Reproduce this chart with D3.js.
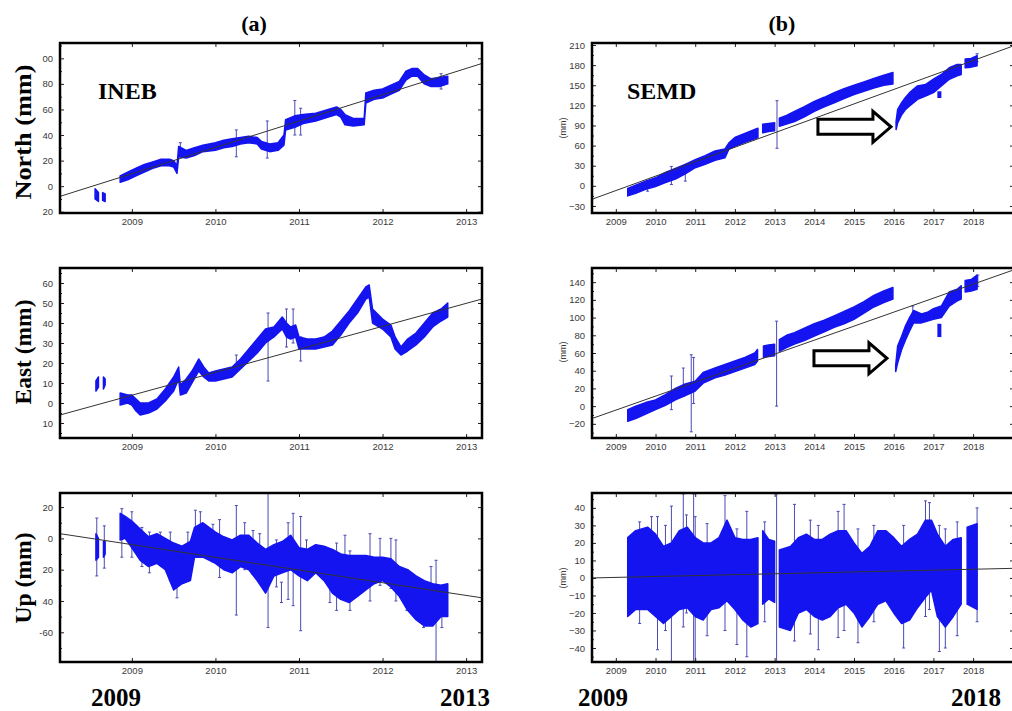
<!DOCTYPE html>
<html>
<head>
<meta charset="utf-8">
<script src="https://cdn.jsdelivr.net/npm/d3@7"></script>
<style>
    body { margin: 0; background: #fff; }
    svg { display: block; }
    .tick text { font-family: "Liberation Sans", Arial, sans-serif; font-size: 9.5px; fill: #3a3a3a; }
    .tick line { stroke: #222; stroke-width: 1; }
    .serif { font-family: "Liberation Serif", "Times New Roman", serif; font-weight: bold; fill: #000; }
</style>
</head>
<body>
<svg id="chart"></svg>
<script>
"use strict";

const width = 1012;
const height = 711;

// ---- data: [year, low, high] envelopes of the daily positions (mm), null = gap
const northA = [
    [2008.56, -10, -2], [2008.60, -12, -5], [2008.61, null, null], [2008.65, -11, -5], [2008.68, -12, -6], [2008.70, null, null],
    [2008.86, 3, 8], [2008.95, 5, 11], [2009.05, 8, 14], [2009.15, 11, 17], [2009.25, 14, 19], [2009.35, 16, 21],
    [2009.45, 16, 21], [2009.50, 15, 20], [2009.54, 10, 16], [2009.56, 23, 31], [2009.65, 22, 28], [2009.75, 24, 30],
    [2009.85, 27, 32], [2010.0, 28, 34], [2010.1, 30, 36], [2010.2, 31, 37], [2010.3, 33, 38], [2010.4, 34, 39],
    [2010.5, 33, 38], [2010.55, 29, 35], [2010.65, 27, 33], [2010.75, 28, 34], [2010.82, 32, 40], [2010.84, 44, 52],
    [2010.95, 46, 55], [2011.05, 49, 56], [2011.2, 51, 57], [2011.35, 54, 60], [2011.45, 56, 62], [2011.5, 54, 60],
    [2011.55, 48, 56], [2011.65, 47, 53], [2011.78, 48, 53], [2011.80, 65, 73], [2011.9, 68, 75], [2012.0, 69, 76],
    [2012.1, 72, 79], [2012.2, 75, 82], [2012.28, 83, 90], [2012.35, 86, 92], [2012.42, 86, 92], [2012.5, 80, 87],
    [2012.58, 78, 84], [2012.68, 78, 85], [2012.78, 80, 86]
];
const northASpikes = [[2010.25, 23, 44], [2010.62, 22, 51], [2010.95, 40, 67], [2011.02, 40, 61], [2012.7, 76, 88], [2009.58, 24, 34]];
const northATrend = [[2008.14, -8], [2013.19, 96]];

const eastA = [
    [2008.57, 6, 11], [2008.60, 8, 13], [2008.61, null, null], [2008.66, 7, 13], [2008.68, 9, 12], [2008.70, null, null],
    [2008.86, -1, 5], [2008.95, 0, 4], [2009.0, -1, 4], [2009.05, -4, 2], [2009.1, -6, 0], [2009.2, -5, 0],
    [2009.3, -3, 2], [2009.4, 1, 7], [2009.5, 6, 13], [2009.56, 12, 18], [2009.58, 4, 9], [2009.65, 5, 12],
    [2009.72, 10, 16], [2009.8, 16, 22], [2009.86, 13, 18], [2009.92, 11, 15], [2010.0, 11, 16], [2010.1, 12, 17],
    [2010.2, 13, 18], [2010.3, 17, 22], [2010.4, 21, 27], [2010.5, 25, 32], [2010.6, 30, 37], [2010.7, 33, 38],
    [2010.8, 37, 43], [2010.85, 33, 40], [2010.9, 32, 38], [2010.96, 33, 39], [2011.0, 27, 33], [2011.1, 27, 32],
    [2011.2, 27, 32], [2011.3, 28, 33], [2011.4, 29, 36], [2011.5, 34, 41], [2011.6, 40, 46], [2011.7, 45, 52],
    [2011.8, 52, 58], [2011.84, 53, 59], [2011.88, 40, 47], [2012.0, 37, 42], [2012.1, 33, 39], [2012.15, 27, 33],
    [2012.22, 24, 28], [2012.3, 26, 32], [2012.4, 29, 35], [2012.5, 33, 40], [2012.6, 38, 45], [2012.7, 41, 47],
    [2012.78, 43, 50]
];
const eastASpikes = [[2010.63, 11, 45], [2010.85, 28, 47], [2010.93, 30, 47], [2011.02, 21, 33], [2010.25, 17, 24]];
const eastATrend = [[2008.14, -6], [2013.19, 52]];

const upA = [
    [2008.57, -14, 3], [2008.60, -12, 0], [2008.61, null, null], [2008.66, -12, -2], [2008.68, -10, -2], [2008.70, null, null],
    [2008.86, -1, 16], [2008.92, 0, 14], [2009.0, -6, 11], [2009.1, -14, 6], [2009.2, -18, 1], [2009.3, -16, 3],
    [2009.4, -20, 0], [2009.5, -33, -3], [2009.6, -29, -5], [2009.7, -27, -2], [2009.75, -12, 7], [2009.85, -12, 10],
    [2010.0, -16, 4], [2010.1, -20, 1], [2010.2, -22, -1], [2010.3, -18, 2], [2010.4, -20, 2], [2010.5, -27, -3],
    [2010.6, -35, -7], [2010.7, -24, -4], [2010.8, -22, -2], [2010.9, -20, 2], [2011.0, -24, -6], [2011.1, -27, -7],
    [2011.2, -22, -4], [2011.3, -27, -5], [2011.4, -35, -7], [2011.5, -39, -10], [2011.6, -41, -11], [2011.7, -37, -11],
    [2011.8, -33, -11], [2011.9, -29, -12], [2012.0, -27, -12], [2012.1, -31, -13], [2012.2, -37, -18], [2012.3, -46, -20],
    [2012.4, -52, -24], [2012.5, -56, -27], [2012.6, -56, -29], [2012.7, -50, -30], [2012.78, -50, -29]
];
const upASpikes = [
    [2008.58, -24, 13], [2008.67, -19, 8], [2008.88, -12, 19], [2009.0, -12, 17], [2009.12, -18, 7], [2009.21, -22, 4],
    [2009.34, -15, 4], [2009.46, -27, 4], [2009.54, -38, -8], [2009.67, -25, 4], [2009.76, -10, 18], [2009.82, -8, 17],
    [2009.97, -15, 9], [2010.05, -25, 12], [2010.25, -49, 21], [2010.35, -20, 10], [2010.45, -23, 5], [2010.53, -27, 3],
    [2010.63, -57, 29], [2010.73, -31, -1], [2010.79, -41, -28], [2010.87, -39, 10], [2010.93, -43, 16], [2011.02, -59, 14],
    [2011.09, -25, -1], [2011.37, -41, -20], [2011.45, -46, -3], [2011.55, -38, 2], [2011.61, -46, -8], [2011.85, -40, 3],
    [2011.97, -30, 0], [2012.10, -32, 0], [2012.16, -40, -1], [2012.29, -46, -20], [2012.49, -57, -30], [2012.58, -50, -18],
    [2012.64, -79, -14], [2012.71, -57, -35]
];
const upATrend = [[2008.14, 3], [2013.19, -38]];

const northB = [
    [2009.3, -15, -4], [2009.5, -11, 1], [2009.75, -5, 7], [2010.0, -1, 12], [2010.25, 5, 20], [2010.5, 10, 26],
    [2010.75, 18, 32], [2011.0, 27, 39], [2011.25, 32, 45], [2011.5, 38, 52], [2011.75, 42, 55], [2011.85, 55, 64],
    [2012.0, 59, 72], [2012.25, 65, 78], [2012.5, 70, 84], [2012.58, 72, 86], [2012.62, null, null], [2012.7, 79, 92],
    [2012.85, 81, 93], [2013.0, 82, 94], [2013.05, null, null], [2013.12, 89, 101], [2013.3, 92, 105], [2013.5, 96, 111],
    [2013.75, 103, 118], [2014.0, 111, 126], [2014.25, 118, 132], [2014.5, 124, 139], [2014.75, 130, 145], [2015.0, 136, 150],
    [2015.25, 141, 155], [2015.5, 146, 160], [2015.75, 150, 165], [2015.98, 152, 169], [2016.02, null, null], [2016.06, 84, 96],
    [2016.1, 94, 114], [2016.2, 106, 124], [2016.3, 114, 132], [2016.4, 119, 139], [2016.6, 129, 149], [2016.8, 134, 151],
    [2017.0, 139, 159], [2017.2, 149, 166], [2017.4, 159, 176], [2017.6, 164, 181], [2017.7, 166, 181], [2017.73, null, null],
    [2017.8, 176, 189], [2017.95, 177, 190], [2018.1, 179, 194]
];
const northBSpikes = [[2013.06, 56, 127], [2010.4, 2, 29], [2010.75, 7, 32], [2018.1, 185, 197], [2009.8, -8, 8]];
const northBBlobs = [[2017.15, 131, 141]];
const northBTrend = [[2008.4, -20], [2019.03, 209]];

const eastB = [
    [2009.3, -17, -4], [2009.5, -14, 0], [2009.75, -9, 4], [2010.0, -4, 7], [2010.25, 1, 13], [2010.5, 7, 20],
    [2010.75, 12, 25], [2011.0, 17, 28], [2011.2, 26, 38], [2011.5, 32, 43], [2011.75, 35, 47], [2012.0, 39, 51],
    [2012.25, 43, 55], [2012.5, 47, 60], [2012.57, 51, 64], [2012.6, null, null], [2012.72, 55, 68], [2012.85, 56, 69],
    [2013.0, 57, 70], [2013.05, null, null], [2013.12, 62, 75], [2013.3, 66, 80], [2013.5, 70, 83], [2013.75, 74, 88],
    [2014.0, 79, 93], [2014.25, 84, 97], [2014.5, 89, 102], [2014.75, 93, 107], [2015.0, 98, 112], [2015.25, 105, 118],
    [2015.5, 112, 125], [2015.75, 117, 130], [2015.98, 121, 134], [2016.02, null, null], [2016.05, 39, 46], [2016.1, 49, 68],
    [2016.2, 64, 79], [2016.3, 75, 91], [2016.4, 85, 100], [2016.5, 94, 108], [2016.7, 94, 104], [2016.85, 96, 106],
    [2017.0, 98, 110], [2017.2, 100, 113], [2017.4, 113, 129], [2017.6, 119, 132], [2017.7, 121, 136], [2017.73, null, null],
    [2017.8, 129, 142], [2017.95, 130, 143], [2018.1, 132, 148]
];
const eastBSpikes = [[2013.05, 0, 96], [2010.9, -29, 58], [2010.96, 3, 55], [2010.4, -4, 34], [2010.7, 11, 43], [2016.48, 100, 113], [2018.12, 135, 148]];
const eastBBlobs = [[2017.15, 78, 93]];
const eastBTrend = [[2008.4, -14], [2019.03, 154]];

const upB = [
    [2009.3, -22, 23], [2009.5, -18, 27], [2009.8, -18, 29], [2010.0, -22, 25], [2010.2, -26, 18], [2010.4, -22, 20],
    [2010.6, -18, 27], [2010.8, -17, 29], [2011.0, -22, 23], [2011.2, -24, 20], [2011.4, -18, 20], [2011.6, -17, 23],
    [2011.8, -13, 33], [2012.0, -18, 23], [2012.2, -24, 22], [2012.4, -28, 22], [2012.58, -26, 23], [2012.62, null, null],
    [2012.7, -15, 27], [2012.85, -12, 22], [2013.0, -14, 21], [2013.04, null, null], [2013.12, -28, 16], [2013.4, -30, 18],
    [2013.6, -20, 23], [2013.8, -18, 25], [2014.0, -22, 22], [2014.2, -24, 22], [2014.4, -22, 25], [2014.6, -17, 27],
    [2014.8, -15, 27], [2015.0, -20, 20], [2015.2, -28, 14], [2015.4, -22, 18], [2015.6, -15, 27], [2015.8, -13, 27],
    [2016.0, -20, 23], [2016.2, -26, 18], [2016.4, -24, 22], [2016.6, -17, 25], [2016.8, -11, 33], [2016.95, -7, 33],
    [2017.1, -22, 25], [2017.3, -28, 18], [2017.5, -22, 22], [2017.7, -15, 23], [2017.74, null, null], [2017.85, -15, 29],
    [2018.1, -18, 31]
];
const upBSpikes = [
    [2009.6, -26, 32], [2009.9, -10, 35], [2010.05, -41, 35], [2010.25, -30, 30], [2010.4, -48, 41], [2010.7, -28, 48],
    [2010.78, -20, 36], [2010.96, -48, 48], [2011.0, -48, 35], [2011.3, -33, 31], [2011.75, -30, 47], [2012.05, -38, 28],
    [2012.3, -45, 38], [2012.75, -25, 32], [2013.05, -48, 48], [2013.15, -20, 11], [2013.5, -36, 42], [2013.9, -32, 33],
    [2014.1, -41, 30], [2014.6, -34, 38], [2014.75, -30, 42], [2015.1, -37, 28], [2015.5, -25, 30], [2016.25, -40, 30],
    [2016.8, -22, 44], [2016.9, -18, 43], [2017.15, -42, 30], [2017.3, -40, 28], [2017.6, -33, 32], [2018.1, -25, 40]
];
const upBTrend = [[2008.4, 0], [2019.03, 5.5]];

// ---- tick values and labels (as printed)
const yearsA = [2009, 2010, 2011, 2012, 2013];
const yearsB = [2009, 2010, 2011, 2012, 2013, 2014, 2015, 2016, 2017, 2018];
const northATicks = [-20, 0, 20, 40, 60, 80, 100];
const northALabels = ["20", "0", "20", "40", "60", "80", "00"];
const eastATicks = [-10, 0, 10, 20, 30, 40, 50, 60];
const eastALabels = ["10", "0", "10", "20", "30", "40", "50", "60"];
const upATicks = [-60, -40, -20, 0, 20];
const upALabels = ["-60", "40", "20", "0", "20"];
const northBTicks = [-30, 0, 30, 60, 90, 120, 150, 180, 210];
const eastBTicks = [-20, 0, 20, 40, 60, 80, 100, 120, 140];
const upBTicks = [-40, -30, -20, -10, 0, 10, 20, 30, 40];

const band_color = "#1414f0";
const spike_color = "#4a4ab4";

const colA = { x0: 60, x1: 482, domain: [2008.14, 2013.19], years: yearsA };
const colB = { x0: 592, x1: 1014, domain: [2008.4, 2019.03], years: yearsB };
const rows = [{ y0: 43, y1: 213 }, { y0: 268, y1: 438 }, { y0: 493, y1: 662 }];

const panels = [
    { col: colA, row: rows[0], yDomain: [-21, 112], ticks: northATicks, labels: northALabels, series: northA, spikes: northASpikes, blobs: [], trend: northATrend },
    { col: colA, row: rows[1], yDomain: [-17.5, 67.5], ticks: eastATicks, labels: eastALabels, series: eastA, spikes: eastASpikes, blobs: [], trend: eastATrend },
    { col: colA, row: rows[2], yDomain: [-79, 29], ticks: upATicks, labels: upALabels, series: upA, spikes: upASpikes, blobs: [], trend: upATrend },
    { col: colB, row: rows[0], yDomain: [-40.5, 213], ticks: northBTicks, labels: null, series: northB, spikes: northBSpikes, blobs: northBBlobs, trend: northBTrend },
    { col: colB, row: rows[1], yDomain: [-36, 156], ticks: eastBTicks, labels: null, series: eastB, spikes: eastBSpikes, blobs: eastBBlobs, trend: eastBTrend },
    { col: colB, row: rows[2], yDomain: [-48, 48.5], ticks: upBTicks, labels: null, series: upB, spikes: upBSpikes, blobs: [], trend: upBTrend }
];

const svg = d3.select("#chart")
    .attr("width", width)
    .attr("height", height);

svg.append("rect").attr("width", width).attr("height", height).attr("fill", "#fff");

const halfSteps = (ticks) => {
    const step = ticks[1] - ticks[0];
    const out = [];
    ticks.forEach(t => out.push(t + step / 2));
    out.unshift(ticks[0] - step / 2);
    return out;
};

panels.forEach((p, i) => {
    const x = d3.scaleLinear().domain(p.col.domain).range([p.col.x0, p.col.x1]);
    const y = d3.scaleLinear().domain(p.yDomain).range([p.row.y1, p.row.y0]);

    const g = svg.append("g");
    const clipId = "clip" + i;
    g.append("clipPath").attr("id", clipId)
        .append("rect")
        .attr("x", p.col.x0).attr("y", p.row.y0)
        .attr("width", p.col.x1 - p.col.x0).attr("height", p.row.y1 - p.row.y0);

    const plot = g.append("g").attr("clip-path", `url(#${clipId})`);

    // error bars
    plot.selectAll(".spike")
        .data(p.spikes)
        .enter()
        .append("path")
        .attr("d", d => {
            const xx = x(d[0]);
            return `M${xx},${y(d[1])}V${y(d[2])}M${xx - 1.5},${y(d[1])}h3M${xx - 1.5},${y(d[2])}h3`;
        })
        .attr("stroke", spike_color)
        .attr("stroke-width", 1)
        .attr("fill", "none");

    // daily position band
    const area = d3.area()
        .defined(d => d[1] !== null)
        .x(d => x(d[0]))
        .y0(d => y(d[1]))
        .y1(d => y(d[2]));
    plot.append("path")
        .datum(p.series)
        .attr("d", area)
        .attr("fill", band_color)
        .attr("stroke", band_color)
        .attr("stroke-width", 1.5)
        .attr("stroke-linejoin", "round");

    plot.selectAll(".blob")
        .data(p.blobs)
        .enter()
        .append("rect")
        .attr("x", d => x(d[0]) - 2)
        .attr("width", 4)
        .attr("y", d => y(d[2]))
        .attr("height", d => y(d[1]) - y(d[2]))
        .attr("fill", band_color);

    // linear trend
    plot.append("path")
        .datum(p.trend)
        .attr("d", d3.line().x(d => x(d[0])).y(d => y(d[1])))
        .attr("stroke", "#333")
        .attr("stroke-width", 1)
        .attr("fill", "none");

    // axes, ticks pointing inward
    g.append("g")
        .attr("transform", `translate(${p.col.x0},0)`)
        .call(d3.axisLeft(y).tickValues(p.ticks).tickSize(-4).tickPadding(7)
            .tickFormat((d, k) => p.labels ? p.labels[k] : d3.format("d")(d)));
    g.append("g")
        .attr("transform", `translate(${p.col.x0},0)`)
        .call(d3.axisLeft(y).tickValues(halfSteps(p.ticks).filter(v => v > p.yDomain[0] && v < p.yDomain[1])).tickSize(-2).tickFormat(""));
    g.append("g")
        .attr("transform", `translate(${p.col.x1},0)`)
        .call(d3.axisRight(y).tickValues(p.ticks).tickSize(-4).tickFormat(""));
    g.append("g")
        .attr("transform", `translate(0,${p.row.y0})`)
        .call(d3.axisTop(x).tickValues(p.col.years).tickSize(-4).tickFormat(""));
    g.append("g")
        .attr("transform", `translate(0,${p.row.y1})`)
        .call(d3.axisBottom(x).tickValues(p.col.years).tickSize(-4).tickPadding(5).tickFormat(d3.format("d")));
    g.selectAll(".domain").remove();
    g.selectAll("g").attr("font-family", null).attr("font-size", null);

    // frame
    g.append("rect")
        .attr("x", p.col.x0).attr("y", p.row.y0)
        .attr("width", p.col.x1 - p.col.x0).attr("height", p.row.y1 - p.row.y0)
        .attr("fill", "none")
        .attr("stroke", "#000")
        .attr("stroke-width", 2.5);

    p.x = x;
    p.y = y;
});

// headings
svg.append("text").attr("class", "serif").attr("x", 254).attr("y", 31)
    .attr("text-anchor", "middle").attr("font-size", 22).text("(a)");
svg.append("text").attr("class", "serif").attr("x", 782).attr("y", 31)
    .attr("text-anchor", "middle").attr("font-size", 22).text("(b)");

// station names
svg.append("text").attr("class", "serif").attr("x", 98).attr("y", 99).attr("font-size", 24).text("INEB");
svg.append("text").attr("class", "serif").attr("x", 627).attr("y", 99).attr("font-size", 24).text("SEMD");

// left titles
const leftTitles = [["North (mm)", 132, 135], ["East (mm)", 352, 105], ["Up (mm)", 578, 91]];
leftTitles.forEach(t => {
    svg.append("text").attr("class", "serif")
        .attr("transform", `translate(31,${t[1]}) rotate(-90)`)
        .attr("text-anchor", "middle")
        .attr("font-size", 24)
        .attr("textLength", t[2])
        .attr("lengthAdjust", "spacingAndGlyphs")
        .text(t[0]);
});

// small (mm) labels of column b
[128, 352, 578].forEach(cy => {
    svg.append("text")
        .attr("transform", `translate(566,${cy}) rotate(-90)`)
        .attr("text-anchor", "middle")
        .attr("font-family", "Liberation Sans, Arial, sans-serif")
        .attr("font-size", 9)
        .attr("fill", "#3a3a3a")
        .text("(mm)");
});

// bottom year labels
[["2009", 116], ["2013", 465], ["2009", 603], ["2018", 976]].forEach(t => {
    svg.append("text").attr("class", "serif")
        .attr("x", t[1]).attr("y", 706)
        .attr("text-anchor", "middle")
        .attr("font-size", 25)
        .text(t[0]);
});

// hollow arrows pointing at the 2016 offset
const arrowTips = [{ panel: panels[3], at: [2015.93, 88] }, { panel: panels[4], at: [2015.83, 54] }];
const arrowShape = [[-73, -7.5], [-18, -7.5], [-18, -15.5], [0, 0], [-18, 15.5], [-18, 7.5], [-73, 7.5]];
arrowTips.forEach(a => {
    const tx = a.panel.x(a.at[0]);
    const ty = a.panel.y(a.at[1]);
    svg.append("path")
        .attr("d", d3.line()(arrowShape.map(q => [tx + q[0], ty + q[1]])) + "Z")
        .attr("fill", "#fff")
        .attr("stroke", "#000")
        .attr("stroke-width", 3)
        .attr("stroke-linejoin", "miter");
});
</script>
</body>
</html>
